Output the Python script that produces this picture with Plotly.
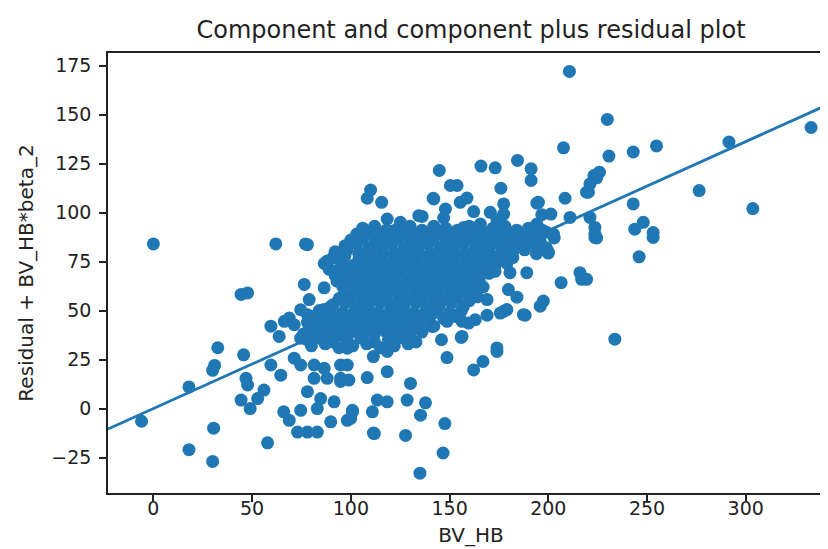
import plotly.graph_objects as go

# ---- data (BV_HB, residual + BV_HB*beta_2) ----
left_pts = [(-6, -6.5), (0, 84), (18, 11), (18, -21), (30.5, -10), (30, -27), (32.6, 31), (31, 22),
            (30, 19.5), (45.7, 27.4), (46.9, 15.4), (47.7, 12), (44.4, 4.3), (49, 0), (44.4, 58.2),
            (47.7, 59), (62, 84), (77, 84)]

lower_left_pts = [(59.5, 42), (63.7, 36.8), (59.5, 22.2), (64.5, 17), (56, 9.4), (52.8, 5.1), (66, -1.7),
                  (68.8, -6), (74.6, -0.9), (73, -12), (78, -12), (83, -12), (57.8, -17.5), (71.3, 25.7),
                  (74.6, 22.2), (81.4, 22.2), (86.5, 20.5), (94.8, 22.2), (81.4, 15.4), (88, 15.4),
                  (94.8, 15.4), (78, 8.6), (84.7, 5.1), (91.5, 3.4), (83, 0), (89.8, -6.8), (98.2, -6),
                  (100.8, -0.9), (94.8, 13.8), (99, 14.5), (108.3, 15.8), (111.4, 26.5), (118.4, 29.1),
                  (118.4, 18.8), (113.4, 4.3), (118.4, 3.4), (110.9, -1.7), (100.8, -1.7), (111.9, -12.8),
                  (127.7, -13.7), (98.2, 22.2), (99.9, -5.1), (130.2, 12.8), (128.5, 4.3), (137.8, 2.9),
                  (135.3, -3.4), (147.6, -7.7), (146.7, -22.7), (135, -33), (111.4, -12.5)]

left_mid_pts = [(68.8, 46.2), (71.3, 42.8), (66.3, 44.5), (76.4, 63.3), (78.9, 55.6), (78, 47.9), (81.4, 41),
                (86.5, 50.5), (88.1, 75.3), (94.8, 77.9), (91.5, 70.2), (98.2, 70.2), (86.5, 61.6),
                (94.8, 56.5), (98.2, 46.2), (94.8, 37.6), (98.2, 30.8), (79.7, 42), (84.7, 35.9),
                (74.6, 35.9), (78, 83.6), (86.5, 74), (94, 77.7), (89.8, 52), (74.6, 50.4)]

upper_mid_pts = [(110, 111.5), (108.3, 107.3), (115.6, 105.2), (144.8, 121.5), (165.9, 123.7), (173.1, 122.8),
                 (150.4, 113.8), (153.8, 113.8), (141.7, 107.3), (155.4, 105.2), (158.8, 107.4), (162.2, 100.5),
                 (147.9, 101.8), (134.4, 98.4), (118.4, 96.7), (125.1, 95), (170.6, 100.1), (177.4, 104.4),
                 (177.4, 99.2), (176, 112.4), (184.4, 126.6), (191.3, 122.3), (191.3, 116.4), (147, 97.2),
                 (136.1, 98), (174, 96.3), (196.7, 98.9), (194.2, 104.8), (113.4, 84.7), (121.8, 90.7),
                 (142, 91.5), (157.2, 92.4), (165.6, 94.1), (194.2, 94.1), (202.6, 89), (169, 85.6),
                 (179, 87.3), (185.8, 86.4), (192.5, 85.6), (148.7, 87.3), (131.9, 89), (137, 86.4),
                 (201.3, 99.2), (211, 97.5), (208.5, 107.3), (219.4, 110.4), (223.1, 118.9), (221.1, 97.5),
                 (223.6, 92.4), (195, 105.2), (142, 106.9)]

right_pts = [(210.7, 172), (207.7, 133), (229.9, 147.5), (230.7, 128.8), (243, 130.9), (254.8, 134),
             (291.5, 136), (333.1, 143.4), (276.4, 111.2), (303.6, 102), (243, 104.4), (243.8, 91.5),
             (248.1, 95), (253.1, 89.8), (225.9, 120.6), (224.5, 117.7), (221.1, 114.6), (220.3, 110.4),
             (223.6, 89), (223.6, 87.3), (253.1, 87.3), (246, 77.4), (233.7, 35.4), (219.4, 65.9),
             (200, 79.3), (224.5, 87)]

lower_right_pts = [(189.1, 69.3), (206.5, 64.2), (216, 69.3), (216.9, 65.9), (197.5, 54.8), (195.9, 52.2),
                   (188.3, 47.6), (179, 50.5), (177.4, 49.6), (169, 47.6), (169, 55.6), (179.8, 60.7),
                   (184.1, 56.8), (180.6, 69.3), (174, 29.1), (166.9, 24), (162.2, 19.7), (155.9, 36.3),
                   (148.7, 26), (145.9, 35.1), (142, 42), (159.7, 43.6), (148.7, 44.5), (163, 45.3),
                   (156.3, 44.5), (141.2, 41.9), (156.3, 36.8), (174, 30.9), (187.4, 47.9), (175.7, 48.7)]

core_pts = [(106, 92), (112, 93), (118, 91), (124, 92), (130, 93), (136, 91), (142, 93), (148, 92), (154, 91),
            (160, 93), (166, 91), (172, 92), (178, 93), (184, 91), (190, 92), (197, 91),
            (103, 89), (109, 90), (115, 88), (121, 89), (127, 90), (133, 88), (139, 89), (145, 90), (151, 88),
            (157, 89), (163, 90), (169, 88), (175, 89), (181, 90), (187, 88), (193, 89), (199, 90),
            (100, 86), (106, 87), (112, 85), (118, 86), (124, 87), (130, 85), (136, 86), (142, 87), (148, 85),
            (154, 86), (160, 87), (166, 85), (172, 86), (178, 85), (184, 87), (190, 86), (196, 85), (203, 87),
            (97, 83), (103, 84), (109, 82), (115, 83), (121, 84), (127, 82), (133, 83), (139, 84), (145, 82),
            (151, 83), (157, 84), (163, 82), (169, 83), (175, 84), (181, 82), (187, 83), (193, 84), (199, 82),
            (92, 80), (98, 81), (104, 79), (110, 80), (116, 81), (122, 79), (128, 80), (134, 81), (140, 79),
            (146, 80), (152, 81), (158, 79), (164, 80), (170, 81), (176, 79), (182, 80), (188, 81), (194, 79),
            (200, 80),
            (91, 77), (97, 78), (104, 76), (110, 77), (116, 78), (122, 76), (128, 77), (134, 78), (140, 76),
            (146, 77), (152, 78), (158, 76), (164, 77), (170, 78), (176, 76), (182, 77),
            (88, 74), (95, 75), (101, 73), (107, 74), (113, 75), (119, 73), (125, 74), (131, 75), (137, 73),
            (143, 74), (149, 75), (155, 73), (161, 74), (167, 75), (173, 73), (179, 74),
            (89, 71), (95, 72), (101, 70), (107, 71), (113, 72), (119, 70), (125, 71), (131, 72), (137, 70),
            (143, 71), (149, 72), (155, 70), (161, 71), (167, 72), (173, 70),
            (92, 68), (98, 69), (104, 67), (110, 68), (116, 69), (122, 67), (128, 68), (134, 69), (140, 67),
            (146, 68), (152, 69), (158, 67), (164, 68), (170, 69),
            (93, 65), (99, 66), (105, 64), (111, 65), (117, 66), (123, 64), (129, 65), (135, 66), (141, 64),
            (147, 65), (153, 66), (159, 64), (165, 65),
            (96, 62), (102, 63), (108, 61), (114, 62), (120, 63), (126, 61), (132, 62), (138, 63), (144, 61),
            (150, 62), (156, 63), (162, 61), (167, 62),
            (97, 59), (103, 60), (109, 58), (115, 59), (121, 60), (127, 58), (133, 59), (139, 60), (145, 58),
            (151, 59), (157, 60), (163, 58),
            (94, 56), (100, 57), (106, 55), (112, 56), (118, 57), (124, 55), (130, 56), (136, 57), (142, 55),
            (148, 56), (154, 57), (160, 55), (164, 57),
            (91, 53), (97, 54), (103, 52), (109, 53), (115, 54), (121, 52), (127, 53), (133, 54), (139, 52),
            (145, 53), (151, 54), (157, 52),
            (84, 50), (90, 51), (96, 49), (102, 50), (108, 51), (114, 49), (120, 50), (126, 51), (132, 49),
            (138, 50), (144, 51), (150, 49), (156, 50),
            (81, 47), (87, 48), (93, 46), (99, 47), (105, 48), (111, 46), (117, 47), (123, 48), (129, 46),
            (135, 47), (141, 48), (147, 46), (153, 47),
            (78, 44), (84, 45), (90, 43), (96, 44), (102, 45), (108, 43), (114, 44), (120, 45), (126, 43),
            (132, 44), (138, 45),
            (79, 41), (85, 42), (91, 40), (97, 41), (103, 42), (109, 40), (115, 41), (121, 42), (127, 40),
            (133, 41),
            (76, 38), (82, 39), (88, 37), (94, 38), (100, 39), (106, 37), (112, 38), (118, 39), (124, 37),
            (130, 38), (136, 39),
            (78, 35), (84, 36), (91, 34), (98, 35), (105, 36), (112, 34), (119, 35), (126, 36), (133, 34),
            (80, 32), (87, 33), (94, 31), (101, 32), (108, 33), (115, 31), (122, 32), (129, 33)]

beta_2 = 0.454             # slope of the component line
x_limits = [-23, 344.7]    # visible x-axis range
y_limits = [-43.1, 181.4]  # visible y-axis range
x_ticks = [0, 50, 100, 150, 200, 250, 300]
y_ticks = [-25, 0, 25, 50, 75, 100, 125, 150, 175]

all_pts = left_pts + lower_left_pts + left_mid_pts + upper_mid_pts + right_pts + lower_right_pts + core_pts
xs = [p[0] for p in all_pts]
ys = [p[1] for p in all_pts]

BLUE = "#1f77b4"
FONT = "DejaVu Sans"

fig = go.Figure()
fig.add_trace(go.Scatter(x=xs, y=ys, mode="markers",
                         marker=dict(size=13, color=BLUE, line=dict(width=0)),
                         showlegend=False, hoverinfo="skip"))
fig.add_trace(go.Scatter(x=x_limits, y=[beta_2 * v for v in x_limits], mode="lines",
                         line=dict(color=BLUE, width=2.8), showlegend=False, hoverinfo="skip"))

axis_common = dict(showline=True, linecolor="#222", linewidth=1.5, mirror=True,
                   ticks="outside", ticklen=7, tickwidth=1.5, tickcolor="#222",
                   showgrid=False, zeroline=False,
                   tickfont=dict(family=FONT, size=19, color="#222"))

fig.update_layout(
    width=828, height=549,
    margin=dict(l=100, r=0, t=45, b=64),
    paper_bgcolor="white", plot_bgcolor="white",
    title=dict(text="Component and component plus residual plot",
               font=dict(family=FONT, size=24, color="#222"),
               x=0.5, xref="paper", xanchor="center",
               y=1 - 22 / 549, yref="container", yanchor="middle"),
    xaxis=dict(range=x_limits, tickvals=x_ticks, ticklabelstandoff=-10, **axis_common,
               title=dict(text="BV_HB", font=dict(family=FONT, size=20, color="#222"), standoff=10)),
    yaxis=dict(range=y_limits, tickvals=y_ticks, ticklabelstandoff=4, **axis_common,
               title=dict(text="Residual + BV_HB*beta_2", font=dict(family=FONT, size=20, color="#222"),
                          standoff=12)),
)

fig.write_html("out.html")
